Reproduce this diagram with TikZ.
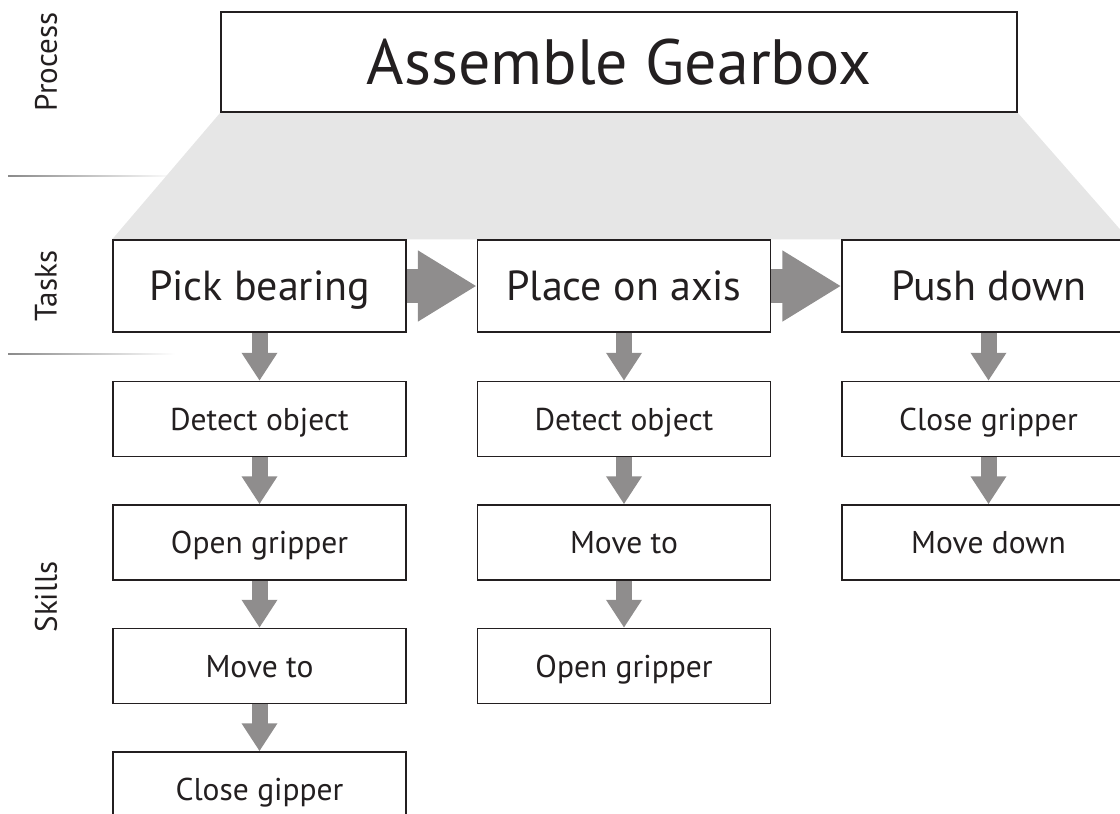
\documentclass[tikz,border=0pt]{standalone}
\usepackage{fontspec}
\setmainfont{PT Sans}
\usepackage{xcolor}
\usetikzlibrary{positioning,arrows.meta,calc}
\definecolor{inkblack}{HTML}{231F20}
\definecolor{arrowgray}{HTML}{8F8D8D}
\definecolor{fangray}{HTML}{E6E6E6}
\definecolor{rulegray}{HTML}{8A8A8A}

\tikzset{
  box/.style={draw=inkblack,line width=1.5pt,fill=white,text=inkblack,inner sep=0pt,text depth=0pt},
  procbox/.style={box,minimum width=796pt,minimum height=100pt,text height=44.8pt,
    font=\fontsize{64}{64}\selectfont},
  taskbox/.style={box,minimum width=293pt,minimum height=92pt,text height=29.4pt,
    font=\fontsize{42}{42}\selectfont},
  skillbox/.style={box,minimum width=293pt,minimum height=75pt,text height=22pt,
    font=\fontsize{31.5}{31.5}\selectfont},
  levellabel/.style={rotate=90,text=inkblack,font=\fontsize{31}{31}\selectfont},
  nextarrow/.style={draw=arrowgray,line width=34pt,-{Triangle[width=67pt,length=59pt]}},
  downarrow/.style={draw=arrowgray,line width=16pt,-{Triangle[width=34pt,length=28pt]}}
}

\begin{document}
\begin{tikzpicture}[x=1pt,y=1pt]
  \useasboundingbox (0,0) rectangle (1120,-814);

  % levels
  \node[levellabel] (lproc) at (46,-62) {Process};
  \node[levellabel] (ltask) at (46,-286) {Tasks};
  \node[levellabel] (lskill) at (46,-597) {Skills};
  \shade[left color=rulegray,right color=white] (8,-175.3) rectangle (175,-176.7);
  \shade[left color=rulegray,right color=white] (8,-353.3) rectangle (175,-354.7);

  % process and tasks
  \node[procbox] (proc) at (619,-62) {};
  \node[taskbox] (t1) at (259.5,-286) {};
  \node[taskbox] (t2) [right=70pt of t1] {};
  \node[taskbox] (t3) [right=70pt of t2] {};
  \fill[fangray] (proc.south west) -- (proc.south east) -- ($(t3.north east)+(-7,0)$) -- (t1.north west) -- cycle;
  \node[procbox] at (proc) {Assemble Gearbox};
  \node[taskbox] at (t1) {Pick bearing};
  \node[taskbox] at (t2) {Place on axis};
  \node[taskbox] at (t3) {Push down};

  % skills
  \node[skillbox] (s11) [below=48pt of t1] {Detect object};
  \node[skillbox] (s12) [below=47pt of s11] {Open gripper};
  \node[skillbox] (s13) [below=47pt of s12] {Move to};
  \node[skillbox] (s14) [below=47pt of s13] {Close gipper};
  \node[skillbox] (s21) [below=48pt of t2] {Detect object};
  \node[skillbox] (s22) [below=47pt of s21] {Move to};
  \node[skillbox] (s23) [below=47pt of s22] {Open gripper};
  \node[skillbox] (s31) [below=48pt of t3] {Close gripper};
  \node[skillbox] (s32) [below=47pt of s31] {Move down};

  \draw[nextarrow] (t1.east) -- (t2.west);
  \draw[nextarrow] (t2.east) -- (t3.west);
  \foreach \a/\b in {t1/s11,s11/s12,s12/s13,s13/s14,t2/s21,s21/s22,s22/s23,t3/s31,s31/s32}
    \draw[downarrow] (\a.south) -- (\b.north);
\end{tikzpicture}
\end{document}
